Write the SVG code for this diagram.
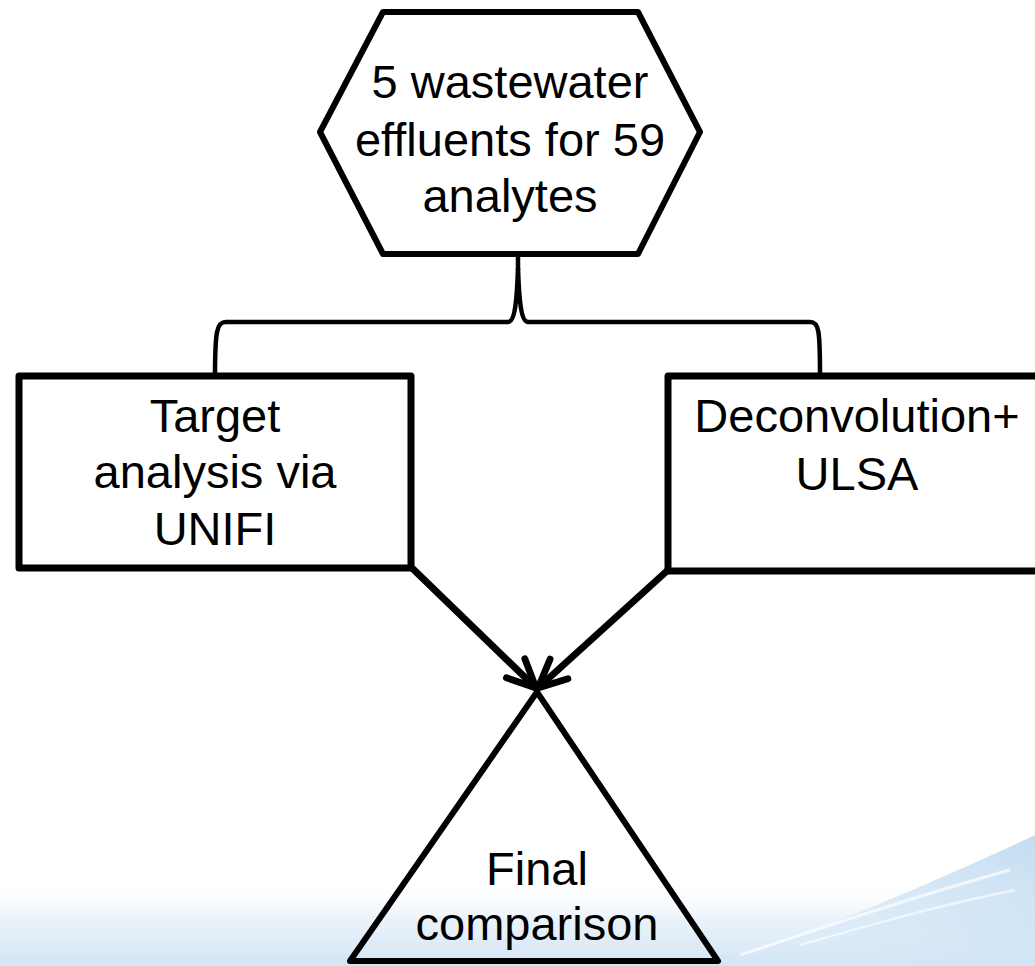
<svg xmlns="http://www.w3.org/2000/svg" width="1035" height="966" viewBox="0 0 1035 966">
  <defs>
    <linearGradient id="bgGrad" x1="0" y1="0" x2="0" y2="1">
      <stop offset="0" stop-color="#ffffff" stop-opacity="0"/>
      <stop offset="0.45" stop-color="#eaf3fb"/>
      <stop offset="1" stop-color="#d3e5f4"/>
    </linearGradient>
    <linearGradient id="swoosh" x1="0" y1="1" x2="1" y2="0">
      <stop offset="0" stop-color="#d7e8f6" stop-opacity="0"/>
      <stop offset="0.5" stop-color="#d2e5f5" stop-opacity="0.8"/>
      <stop offset="1" stop-color="#c4ddf1"/>
    </linearGradient>
    <marker id="open" viewBox="0 0 20 20" refX="18" refY="10" markerWidth="5.4" markerHeight="5.4" markerUnits="strokeWidth" orient="auto">
      <path d="M3,3 L18,10 L3,17" fill="none" stroke="#000" stroke-width="3.6" stroke-linecap="round" stroke-linejoin="round"/>
    </marker>
    <style>
      .shape { fill: #ffffff; stroke: #000; stroke-width: 7; stroke-linejoin: round; }
      .lbl { font-family: "Liberation Sans", Arial, sans-serif; font-size: 47px; fill: #000; text-anchor: middle; }
      .conn { fill: none; stroke: #000; stroke-width: 7; }
    </style>
  </defs>

  <g id="background">
    <rect x="0" y="0" width="1035" height="966" fill="#ffffff"/>
    <rect x="0" y="880" width="1035" height="86" fill="url(#bgGrad)"/>
    <path d="M720,966 C820,930 940,880 1035,835 L1035,966 Z" fill="url(#swoosh)"/>
    <path d="M740,955 C830,925 920,895 1010,870" fill="none" stroke="#ffffff" stroke-width="3" stroke-opacity="0.7"/>
    <path d="M800,945 C870,925 940,905 1015,890" fill="none" stroke="#ffffff" stroke-width="2.5" stroke-opacity="0.6"/>
  </g>

  <g id="connectors">
    <path class="conn" style="stroke-width:4.5" d="M215,376 C215,330 217,322 226,322 L508,322 C515,322 517,300 518,268 C519,300 521,322 528,322 L810,322 C819,322 820,330 820,376"/>
    <line x1="518" y1="270" x2="518" y2="255" stroke="#000" stroke-width="4.5"/>
    <line class="conn" x1="412" y1="568" x2="536" y2="688" marker-end="url(#open)"/>
    <line class="conn" x1="668" y1="570" x2="538" y2="688" marker-end="url(#open)"/>
  </g>

  <g id="node-effluents">
    <polygon class="shape" style="stroke-width:6" points="383,12 638,12 700,132 638,254 383,254 320,132"/>
    <text class="lbl" x="510" y="98">5 wastewater</text>
    <text class="lbl" x="510" y="156">effluents for 59</text>
    <text class="lbl" x="510" y="212">analytes</text>
  </g>

  <g id="node-target">
    <rect class="shape" x="19" y="376" width="392" height="192"/>
    <text class="lbl" x="215" y="432">Target</text>
    <text class="lbl" x="215" y="488">analysis via</text>
    <text class="lbl" x="215" y="545">UNIFI</text>
  </g>

  <g id="node-deconvolution">
    <rect class="shape" x="668" y="376" width="380" height="195"/>
    <text class="lbl" x="857" y="432">Deconvolution+</text>
    <text class="lbl" x="857" y="490">ULSA</text>
  </g>

  <g id="node-final">
    <polygon class="shape" style="fill:none;stroke-width:6" points="537,692 718,961 350,961"/>
    <text class="lbl" x="537" y="885">Final</text>
    <text class="lbl" x="537" y="940">comparison</text>
  </g>
</svg>
